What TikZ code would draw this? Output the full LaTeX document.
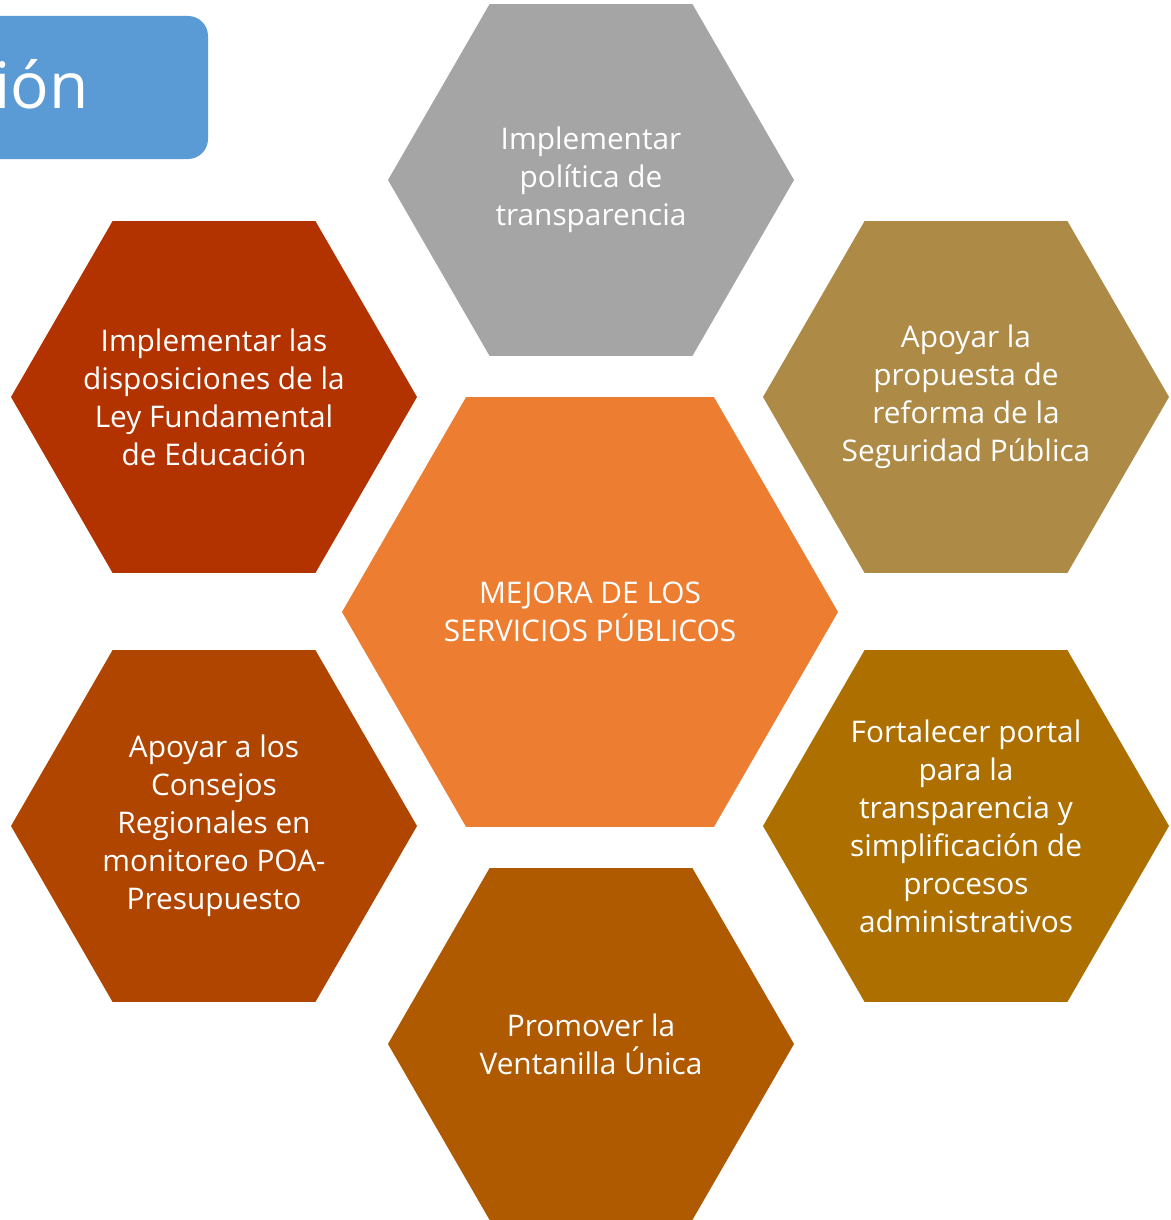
\documentclass[tikz,border=0pt]{standalone}
\usepackage{fontspec}
\setmainfont{Open Sans}
\usetikzlibrary{shapes.geometric}
\definecolor{cblue}{HTML}{5B9BD5}
\definecolor{cgray}{HTML}{A5A5A5}
\definecolor{cred}{HTML}{B23300}
\definecolor{ctan}{HTML}{AE8A47}
\definecolor{corange}{HTML}{ED7D31}
\definecolor{crust}{HTML}{B04500}
\definecolor{cochre}{HTML}{AD7000}
\definecolor{cbrown}{HTML}{AF5900}
\begin{document}
\begin{tikzpicture}[x=0.5pt,y=-0.5pt,
  hexa/.style={regular polygon, regular polygon sides=6, inner sep=0pt, draw=none, minimum size=203pt},
  bighexa/.style={hexa, minimum size=248pt},
  txt/.style={text=white, align=center, inner sep=0pt, font=\fontsize{14.9}{19}\selectfont}]
\useasboundingbox (0,0) rectangle (1171,1220);
\fill[white] (0,0) rectangle (1171,1220);
% title box
\fill[cblue, rounded corners=10pt] (-60,16) rectangle (208,159);
\node[anchor=base east, text=white, inner sep=0pt, font=\fontsize{32}{32}\selectfont] (title) at (89,109) {ión};
% hexagons
\node[hexa, fill=cgray] (top) at (591,180) {};
\node[hexa, fill=cred] (tl) at (214,397) {};
\node[hexa, fill=ctan] (tr) at (966,397) {};
\node[bighexa, fill=corange] (ctr) at (590,612) {};
\node[hexa, fill=crust] (bl) at (214,826) {};
\node[hexa, fill=cochre] (br) at (966,826) {};
\node[hexa, fill=cbrown] (bot) at (591,1044) {};
% texts
\node[txt] (ttop) at (top) {Implementar\\política de\\transparencia};
\node[txt] (ttl) at (tl) {Implementar las\\disposiciones de la\\Ley Fundamental\\de Educación};
\node[txt] (ttr) at (tr) {Apoyar la\\propuesta de\\reforma de la\\Seguridad Pública};
\node[txt] (tctr) at (ctr) {MEJORA DE LOS\\SERVICIOS PÚBLICOS};
\node[txt] (tbl) at (bl) {Apoyar a los\\Consejos\\Regionales en\\monitoreo POA-\\Presupuesto};
\node[txt] (tbr) at (br) {Fortalecer portal\\para la\\transparencia y\\simplificación de\\procesos\\administrativos};
\node[txt] (tbot) at (bot) {Promover la\\Ventanilla Única};
\end{tikzpicture}
\end{document}
